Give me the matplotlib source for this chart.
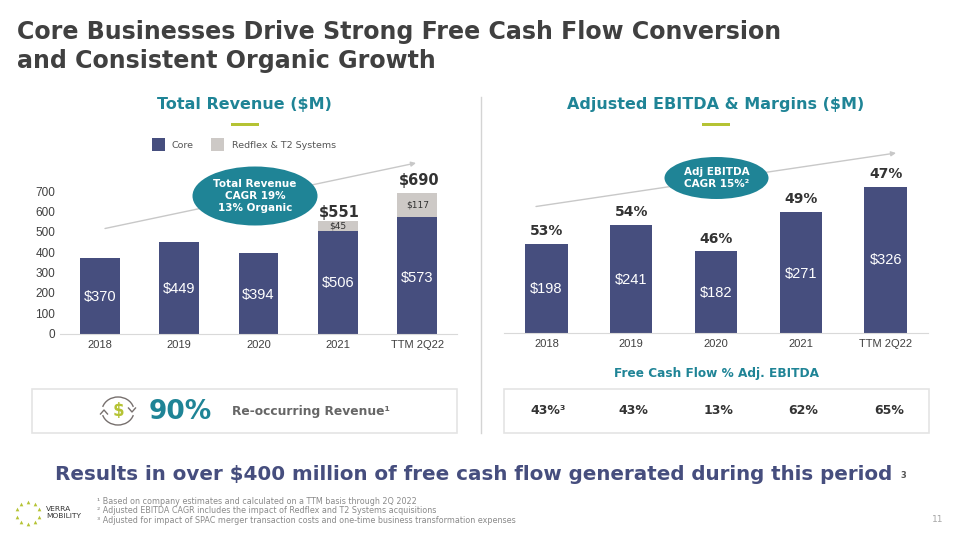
import matplotlib
matplotlib.use("Agg")
import matplotlib.pyplot as plt
from matplotlib.patches import Ellipse, Rectangle, Arc

# Chart data
years = ["2018", "2019", "2020", "2021", "TTM 2Q22"]
core_rev = [370, 449, 394, 506, 573]
redflex_rev = [0, 0, 0, 45, 117]
total_labels = {3: "$551", 4: "$690"}
ebitda = [198, 241, 182, 271, 326]
margins = ["53%", "54%", "46%", "49%", "47%"]
fcf = ["43%³", "43%", "13%", "62%", "65%"]
rev_ticks = [0, 100, 200, 300, 400, 500, 600, 700]

NAVY = "#464e7e"
GREY = "#cdc9c6"
TEAL = "#1f8496"
GREEN = "#b5c334"
DARK = "#333333"
ARIAL = "Liberation Sans"
W, H = 960, 540

fig = plt.figure(figsize=(9.6, 5.4), dpi=100, facecolor="white")


def px_axes(x0, y0, x1, y1):
    # y0 is the top edge in image pixels
    return fig.add_axes([x0 / W, 1 - y1 / H, (x1 - x0) / W, (y1 - y0) / H])


# overlay in image pixels for slide furniture
ov = fig.add_axes([0, 0, 1, 1], zorder=5)
ov.set_xlim(0, W)
ov.set_ylim(H, 0)
ov.axis("off")

# Left chart
ax1 = px_axes(60, 180, 457, 333.5)
ax1.patch.set_alpha(0)
ax1.bar(years, core_rev, width=0.5, color=NAVY)
ax1.bar(years, redflex_rev, width=0.5, bottom=core_rev, color=GREY)
ax1.set_xlim(-0.5, 4.5)
ax1.set_ylim(0, 153.5 / 0.2035)
ax1.set_yticks(rev_ticks)
# label heights in the original do not sit exactly mid-bar
rev_label_y = [185, 225, 195, 255, 280]
for i, v in enumerate(core_rev):
    ax1.text(i, rev_label_y[i] - 5, f"${v}", color="white", ha="center", va="center",
             fontsize=10.5, family=ARIAL)
ax1.text(3, 506 + 22, "$45", color=DARK, ha="center", va="center", fontsize=6.5)
ax1.text(4, 573 + 56, "$117", color=DARK, ha="center", va="center", fontsize=6.5)
total_pad = {3: 7, 4: 25}
for i, lab in total_labels.items():
    ax1.text(i + 0.02, core_rev[i] + redflex_rev[i] + total_pad[i], lab, color=DARK, ha="center",
             va="bottom", fontsize=10.5, fontweight="bold")

# Right chart
ax2 = px_axes(504, 180, 928, 332.7)
ax2.patch.set_alpha(0)
ax2.bar(years, ebitda, width=0.5, color=NAVY)
ax2.set_xlim(-0.5, 4.5)
ax2.set_ylim(0, 152.7 / 0.447)
ax2.set_yticks([])
ebitda_label_y = [98, 118, 89, 132, 163]
for i, v in enumerate(ebitda):
    ax2.text(i, ebitda_label_y[i], f"${v}", color="white", ha="center", va="center",
             fontsize=10.5, family=ARIAL)
    ax2.text(i, v + 13, margins[i], color=DARK, ha="center", va="bottom",
             fontsize=10, fontweight="bold")

for ax in (ax1, ax2):
    for s in ("top", "right", "left"):
        ax.spines[s].set_visible(False)
    ax.spines["bottom"].set_color("#d9d9d9")
    ax.tick_params(axis="both", length=0, labelsize=8, labelcolor="#404040")
    ax.tick_params(axis="x", pad=4.5)
    for t in ax.get_xticklabels() + ax.get_yticklabels():
        t.set_family(ARIAL)
    for t in ax.get_yticklabels():
        t.set_fontsize(8.5)

# Title
ov.text(17, 32, "Core Businesses Drive Strong Free Cash Flow Conversion", fontsize=17.15,
        fontweight="bold", color="#404040", va="center")
ov.text(17, 61, "and Consistent Organic Growth", fontsize=17.15, fontweight="bold",
        color="#404040", va="center")

# Panel headings
ov.text(244, 104, "Total Revenue ($M)", fontsize=11.5, fontweight="bold", color=TEAL,
        ha="center", va="center")
ov.text(716, 104, "Adjusted EBITDA & Margins ($M)", fontsize=11.5, fontweight="bold", color=TEAL,
        ha="center", va="center")
ov.add_patch(Rectangle((231, 123), 28, 3, color=GREEN, lw=0))
ov.add_patch(Rectangle((702, 123), 28, 3, color=GREEN, lw=0))
ov.plot([481, 481], [97, 433], color="#d4d4d4", lw=1)

# Legend
ov.add_patch(Rectangle((152, 138), 13, 13, color=NAVY, lw=0))
ov.add_patch(Rectangle((211, 138), 13, 13, color=GREY, lw=0))
ov.text(172, 145, "Core", fontsize=6.8, color="#555555", va="center")
ov.text(232, 145, "Redflex & T2 Systems", fontsize=6.8, color="#555555", va="center")

# Growth arrows and callouts
arrow = dict(arrowstyle="-|>", color="#c8c8c8", lw=1, shrinkA=0, shrinkB=0, mutation_scale=7)
ov.annotate("", xy=(416, 163), xytext=(105, 228.5), arrowprops=arrow)
ov.annotate("", xy=(896, 153), xytext=(536, 206.5), arrowprops=arrow)
ov.add_patch(Ellipse((255, 196), 125, 59, color=TEAL, lw=0, zorder=3))
ov.add_patch(Ellipse((716.5, 178), 104, 42, color=TEAL, lw=0, zorder=3))
ov.text(255, 196, "Total Revenue\nCAGR 19%\n13% Organic", color="white", fontsize=7.5,
        fontweight="bold", ha="center", va="center", linespacing=1.2, zorder=4)
ov.text(716.5, 178, "Adj EBITDA\nCAGR 15%²", color="white", fontsize=7.5,
        fontweight="bold", ha="center", va="center", linespacing=1.2, zorder=4)

# Bottom boxes
ov.add_patch(Rectangle((32, 389), 425, 44, fc="white", ec="#e4e4e4", lw=1.2))
ov.add_patch(Rectangle((504, 389), 425, 44, fc="white", ec="#e4e4e4", lw=1.2))
ov.text(180, 412, "90%", fontsize=19, fontweight="bold", color=TEAL, ha="center", va="center")
ov.text(232, 411, "Re-occurring Revenue¹", fontsize=8.8, fontweight="bold", color="#666666", va="center")

# Dollar cycle icon
ov.text(118, 411, "$", fontsize=12, fontweight="bold", color=GREEN, ha="center", va="center")
ov.add_patch(Arc((118, 411), 32, 28, theta1=195, theta2=345, color="#77706e", lw=1))
ov.add_patch(Arc((118, 411), 32, 28, theta1=15, theta2=165, color="#77706e", lw=1))
ov.plot([100.5, 104, 107.5], [414, 410, 414], color="#77706e", lw=1)
ov.plot([128.5, 132, 135.5], [408, 412, 408], color="#77706e", lw=1)

ov.text(716.5, 374, "Free Cash Flow % Adj. EBITDA", fontsize=8.7, fontweight="bold", color=TEAL,
        ha="center", va="center")
for i, val in enumerate(fcf):
    # values line up under the bars
    ov.text(548 + i * 85.2, 411, val, fontsize=9, fontweight="bold", color=DARK, ha="center", va="center")

ov.text(55, 475, "Results in over $400 million of free cash flow generated during this period",
        fontsize=14.3, fontweight="bold", color=NAVY, va="center")
ov.text(903, 476, "3", fontsize=6, fontweight="bold", color="#555555", ha="center", va="center")

# Footnotes
notes = ["¹ Based on company estimates and calculated on a TTM basis through 2Q 2022",
         "² Adjusted EBITDA CAGR includes the impact of Redflex and T2 Systems acquisitions",
         "³ Adjusted for impact of SPAC merger transaction costs and one-time business transformation expenses"]
for i, note in enumerate(notes):
    ov.text(97, 501 + i * 9.8, note, fontsize=5.8, color="#8a8a8a", va="center")
ov.text(938, 519, "11", fontsize=6.5, color="#a6a6a6", ha="center", va="center")

# Logo
ring_x = [28, 35, 39, 39, 35, 28, 21, 17, 17, 21]
ring_y = [502, 504, 509, 517, 522, 524, 522, 517, 509, 504]
ov.scatter(ring_x, ring_y, s=7, marker="^", color=GREEN, lw=0)
ov.text(46, 512.5, "VERRA\nMOBILITY", fontsize=5.4, color="#333333", va="center", linespacing=1.05)

fig.savefig("out.png", dpi=100)
